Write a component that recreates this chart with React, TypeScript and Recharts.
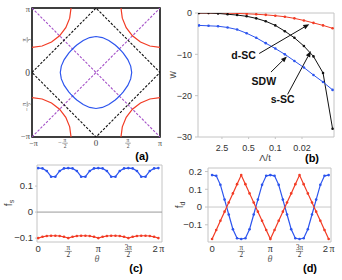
import {
  LineChart,
  Line,
  XAxis,
  YAxis,
  ReferenceArea,
  ReferenceLine,
  ReferenceDot,
} from 'recharts';

const SANS = '"Liberation Sans", Arial, sans-serif';
const SERIF = '"Liberation Serif", "DejaVu Serif", serif';
const BLUE = '#2d55ee';
const RED = '#f23b24';
const PURPLE = '#a552c8';
const DARK = '#111';
const FRAME = '#c4c4c4';
const TXT = '#333';

// ---- (a) Brillouin zone, coordinates in units of pi ----
const piTicks = [-1, -0.5, 0, 0.5, 1];
const magBZ = [
  { x: -1, y: 0 }, { x: 0, y: 1 }, { x: 1, y: 0 }, { x: 0, y: -1 }, { x: -1, y: 0 },
];
const diagUp = [{ x: -1, y: -1 }, { x: 1, y: 1 }];
const diagDown = [{ x: -1, y: 1 }, { x: 1, y: -1 }];
const fermiCenter = [
  { x: 0.558, y: 0 }, { x: 0.542, y: 0.1 }, { x: 0.497, y: 0.2 }, { x: 0.426, y: 0.3 }, { x: 0.395, y: 0.335 },
  { x: 0.365, y: 0.365 }, { x: 0.335, y: 0.395 }, { x: 0.3, y: 0.426 }, { x: 0.2, y: 0.497 }, { x: 0.1, y: 0.542 },
  { x: 0, y: 0.558 }, { x: -0.1, y: 0.542 }, { x: -0.2, y: 0.497 }, { x: -0.3, y: 0.426 }, { x: -0.335, y: 0.395 },
  { x: -0.365, y: 0.365 }, { x: -0.395, y: 0.335 }, { x: -0.426, y: 0.3 }, { x: -0.497, y: 0.2 }, { x: -0.542, y: 0.1 },
  { x: -0.558, y: 0 }, { x: -0.542, y: -0.1 }, { x: -0.497, y: -0.2 }, { x: -0.426, y: -0.3 }, { x: -0.395, y: -0.335 },
  { x: -0.365, y: -0.365 }, { x: -0.335, y: -0.395 }, { x: -0.3, y: -0.426 }, { x: -0.2, y: -0.497 }, { x: -0.1, y: -0.542 },
  { x: 0, y: -0.558 }, { x: 0.1, y: -0.542 }, { x: 0.2, y: -0.497 }, { x: 0.3, y: -0.426 }, { x: 0.335, y: -0.395 },
  { x: 0.365, y: -0.365 }, { x: 0.395, y: -0.335 }, { x: 0.426, y: -0.3 }, { x: 0.497, y: -0.2 }, { x: 0.542, y: -0.1 },
  { x: 0.558, y: 0 },
];
const pocketTL = [
  { x: -0.39, y: 1 }, { x: -0.411, y: 0.842 }, { x: -0.472, y: 0.695 }, { x: -0.569, y: 0.569 },
  { x: -0.695, y: 0.472 }, { x: -0.842, y: 0.411 }, { x: -1, y: 0.39 },
];
const pocketTR = [
  { x: 0.39, y: 1 }, { x: 0.411, y: 0.842 }, { x: 0.472, y: 0.695 }, { x: 0.569, y: 0.569 },
  { x: 0.695, y: 0.472 }, { x: 0.842, y: 0.411 }, { x: 1, y: 0.39 },
];
const pocketBL = [
  { x: -0.39, y: -1 }, { x: -0.411, y: -0.842 }, { x: -0.472, y: -0.695 }, { x: -0.569, y: -0.569 },
  { x: -0.695, y: -0.472 }, { x: -0.842, y: -0.411 }, { x: -1, y: -0.39 },
];
const pocketBR = [
  { x: 0.39, y: -1 }, { x: 0.411, y: -0.842 }, { x: 0.472, y: -0.695 }, { x: 0.569, y: -0.569 },
  { x: 0.695, y: -0.472 }, { x: 0.842, y: -0.411 }, { x: 1, y: -0.39 },
];

// ---- (b) flow of couplings vs Lambda/t ----
const lambda = [10, 5.62, 3.16, 1.78, 1, 0.562, 0.316, 0.178, 0.1, 0.0562, 0.0316, 0.0178, 0.01, 0.00562, 0.00316];
const wSC_s = [0, 0, -0.1, -0.3, -0.5, -0.8, -1.3, -2.0, -3.0, -4.4, -6.0, -8.0, -10.5, -14.5, -28];
const wSDW = [-3.0, -3.1, -3.2, -3.5, -4.0, -4.9, -6.0, -7.3, -8.6, -10.0, -11.6, -13.2, -15.0, -16.7, -18.6];
const wSC_d = [0, 0, 0, -0.05, -0.1, -0.2, -0.3, -0.45, -0.65, -0.9, -1.3, -1.8, -2.4, -3.0, -3.7];
const lambdaTicks = [2.5, 0.5, 0.1, 0.02];
const flowData = lambda.map((lam, i) => ({ lam, s: wSC_s[i], sdw: wSDW[i], d: wSC_d[i] }));

// ---- (c), (d) form factors vs theta (units of pi) ----
const theta = [
  0, 0.0714, 0.1429, 0.2143, 0.2857, 0.3571, 0.4286, 0.5, 0.5714, 0.6429, 0.7143, 0.7857, 0.8571, 0.9286,
  1, 1.0714, 1.1429, 1.2143, 1.2857, 1.3571, 1.4286, 1.5, 1.5714, 1.6429, 1.7143, 1.7857, 1.8571, 1.9286, 2,
];
const thetaTicks = [0, 0.5, 1, 1.5, 2];
const fsBlue = [
  0.169, 0.168, 0.158, 0.136, 0.136, 0.158, 0.168, 0.169, 0.168, 0.158, 0.136, 0.136, 0.158, 0.168,
  0.169, 0.168, 0.158, 0.136, 0.136, 0.158, 0.168, 0.169, 0.168, 0.158, 0.136, 0.136, 0.158, 0.168, 0.169,
];
const fsRed = [
  -0.1, -0.095, -0.092, -0.091, -0.091, -0.092, -0.095, -0.1, -0.095, -0.092, -0.091, -0.091, -0.092, -0.095,
  -0.1, -0.095, -0.092, -0.091, -0.091, -0.092, -0.095, -0.1, -0.095, -0.092, -0.091, -0.091, -0.092, -0.095, -0.1,
];
const fdBlue = [
  0.18, 0.176, 0.125, 0.042, -0.042, -0.125, -0.176, -0.18, -0.176, -0.125, -0.042, 0.042, 0.125, 0.176,
  0.18, 0.176, 0.125, 0.042, -0.042, -0.125, -0.176, -0.18, -0.176, -0.125, -0.042, 0.042, 0.125, 0.176, 0.18,
];
const fdRed = [
  -0.18, -0.129, -0.077, -0.026, 0.026, 0.077, 0.129, 0.18, 0.129, 0.077, 0.026, -0.026, -0.077, -0.129,
  -0.18, -0.129, -0.077, -0.026, 0.026, 0.077, 0.129, 0.18, 0.129, 0.077, 0.026, -0.026, -0.077, -0.129, -0.18,
];
const fsData = theta.map((t, i) => ({ t, a: fsBlue[i], b: fsRed[i] }));
const fdData = theta.map((t, i) => ({ t, a: fdBlue[i], b: fdRed[i] }));

const minus = (v: number) => (v < 0 ? `\u2212${Math.abs(v)}` : `${v}`);

function Frac({ x, y, num, size, color, font }: any) {
  return (
    <g>
      <text x={x} y={y} textAnchor="middle" fontFamily={font} fontSize={size} fill={color}>{num}</text>
      <line x1={x - size * 0.5} x2={x + size * 0.5} y1={y + size * 0.25} y2={y + size * 0.25} stroke={color} strokeWidth={0.5} />
      <text x={x} y={y + size * 1.05} textAnchor="middle" fontFamily={font} fontSize={size} fill={color}>2</text>
    </g>
  );
}

function PiTickX({ x, y, payload }: any) {
  const v = payload.value;
  const c = '#444';
  if (v === 0) return <text x={x} y={y + 8} textAnchor="middle" fontFamily={SERIF} fontSize={9} fill={c}>0</text>;
  if (Math.abs(v) === 1)
    return <text x={x + (v < 0 ? 1.5 : 0)} y={y + 8} textAnchor="middle" fontFamily={SERIF} fontSize={8} fill={c}>{v < 0 ? '\u2212\u03c0' : '\u03c0'}</text>;
  return (
    <g>
      {v < 0 && <text x={x - 4} y={y + 6.5} textAnchor="middle" fontFamily={SERIF} fontSize={6.5} fill={c}>{'\u2212'}</text>}
      <Frac x={x + (v < 0 ? 1 : 0)} y={y + 3.8} num={'\u03c0'} size={5.5} color={c} font={SERIF} />
    </g>
  );
}

function PiTickY({ x, y, payload }: any) {
  const v = payload.value;
  const c = '#444';
  if (v === 0) return <text x={x} y={y + 3} textAnchor="end" fontFamily={SERIF} fontSize={9.5} fill={c}>0</text>;
  if (Math.abs(v) === 1)
    return <text x={x} y={y + (v < 0 ? 1.5 : 2.5)} textAnchor="end" fontFamily={SERIF} fontSize={8.5} fill={c}>{v < 0 ? '\u2212\u03c0' : '\u03c0'}</text>;
  return (
    <g transform={`translate(${x - 3},${y}) rotate(-90)`}>
      {v < 0 && <text x={-4.5} y={1.5} textAnchor="middle" fontFamily={SERIF} fontSize={6.5} fill={c}>{'\u2212'}</text>}
      <Frac x={0.5} y={-1.2} num={'\u03c0'} size={5.5} color={c} font={SERIF} />
    </g>
  );
}

function ThetaTick({ x, y, payload }: any) {
  const v = payload.value;
  if (v === 0) return <text x={x} y={y + 9.5} textAnchor="middle" fontFamily={SANS} fontSize={9.5} fill={TXT}>0</text>;
  if (v === 1) return <text x={x} y={y + 9.5} textAnchor="middle" fontFamily={SERIF} fontSize={10} fill={TXT}>{'\u03c0'}</text>;
  if (v === 2)
    return (
      <text x={x} y={y + 9.5} textAnchor="middle" fill={TXT}>
        <tspan fontFamily={SANS} fontSize={9.5}>2</tspan>
        <tspan fontFamily={SERIF} fontSize={10} dx={1.5}>{'\u03c0'}</tspan>
      </text>
    );
  return <Frac x={x} y={y + 7.6} num={v === 0.5 ? '\u03c0' : '3\u03c0'} size={7.2} color={TXT} font={SERIF} />;
}

function Arrow(props: any) {
  const { x1, y1, x2, y2 } = props;
  if (![x1, y1, x2, y2].every((v) => Number.isFinite(v))) return null;
  const a = Math.atan2(y2 - y1, x2 - x1);
  const len = 6;
  const w = 2.4;
  const bx = x2 - len * Math.cos(a);
  const by = y2 - len * Math.sin(a);
  const pts = `${x2},${y2} ${bx - w * Math.sin(a)},${by + w * Math.cos(a)} ${bx + w * Math.sin(a)},${by - w * Math.cos(a)}`;
  return (
    <g>
      <line x1={x1} y1={y1} x2={bx} y2={by} stroke={DARK} strokeWidth={1} />
      <polygon points={pts} fill={DARK} />
    </g>
  );
}

const noteLabel = (value: string) => ({ value, position: 'center' as const, fill: DARK, fontSize: 10.5, fontWeight: 700, fontFamily: SANS });
const dotStyle = (c: string) => ({ r: 1.3, fill: c, stroke: 'none' });

export default function App() {
  return (
    <div style={{ position: 'fixed', left: 0, top: 0, width: 342, height: 280, background: '#fff', overflow: 'hidden' }}>
      {/* (a) */}
      <div style={{ position: 'absolute', left: 0, top: 0 }}>
        <LineChart width={171} height={160} margin={{ top: 8, right: 11, bottom: 0, left: 0 }}>
          <XAxis type="number" dataKey="x" domain={[-1, 1]} ticks={piTicks} height={23} axisLine={false} tickLine={false}
            tickSize={0} tickMargin={1} tick={<PiTickX />} allowDataOverflow />
          <YAxis type="number" domain={[-1, 1]} ticks={piTicks} width={32} axisLine={false} tickLine={false}
            tickSize={0} tickMargin={2} tick={<PiTickY />} allowDataOverflow />
          <Line data={diagUp} dataKey="y" stroke={PURPLE} strokeWidth={1.1} strokeDasharray="2.5 1.5" dot={false} isAnimationActive={false} />
          <Line data={diagDown} dataKey="y" stroke={PURPLE} strokeWidth={1.1} strokeDasharray="2.5 1.5" dot={false} isAnimationActive={false} />
          <Line data={magBZ} dataKey="y" stroke={DARK} strokeWidth={1.1} strokeDasharray="2.5 1.5" dot={false} isAnimationActive={false} />
          <Line data={fermiCenter} dataKey="y" stroke={BLUE} strokeWidth={1.2} dot={false} isAnimationActive={false} />
          <Line data={pocketTL} dataKey="y" stroke={RED} strokeWidth={1.2} dot={false} isAnimationActive={false} />
          <Line data={pocketTR} dataKey="y" stroke={RED} strokeWidth={1.2} dot={false} isAnimationActive={false} />
          <Line data={pocketBL} dataKey="y" stroke={RED} strokeWidth={1.2} dot={false} isAnimationActive={false} />
          <Line data={pocketBR} dataKey="y" stroke={RED} strokeWidth={1.2} dot={false} isAnimationActive={false} />
          <ReferenceArea x1={-1} x2={1} y1={-1} y2={1} fill="none" fillOpacity={0} stroke="#000" strokeWidth={1.5} />
        </LineChart>
      </div>

      {/* (b) */}
      <div style={{ position: 'absolute', left: 171, top: 0 }}>
        <LineChart width={171} height={160} data={flowData} margin={{ top: 13, right: 8, bottom: 0, left: 0 }}>
          <ReferenceArea x1={0.0029} x2={10.6} y1={-30} y2={0} fill="none" fillOpacity={0} stroke={FRAME} strokeWidth={1} />
          <XAxis type="number" dataKey="lam" scale="log" domain={[0.0029, 10.6]} reversed ticks={lambdaTicks} height={23}
            axisLine={false} tickLine={{ stroke: FRAME }} tickSize={2} tickMargin={6} allowDataOverflow
            tick={{ fontSize: 9, fill: TXT, fontFamily: SANS }} tickFormatter={(v) => String(v)} />
          <YAxis type="number" domain={[-30, 0]} ticks={[-30, -20, -10, 0]} width={27} axisLine={false}
            tickLine={{ stroke: FRAME }} tickSize={3} tickMargin={3} allowDataOverflow
            tick={{ fontSize: 9, fill: TXT, fontFamily: SANS }} tickFormatter={minus} />
          <Line dataKey="d" stroke={RED} strokeWidth={1} dot={dotStyle(RED)} isAnimationActive={false} />
          <Line dataKey="s" stroke={DARK} strokeWidth={1} dot={dotStyle(DARK)} isAnimationActive={false} />
          <Line dataKey="sdw" stroke={BLUE} strokeWidth={1} dot={dotStyle(BLUE)} isAnimationActive={false} />
          <ReferenceLine segment={[{ x: 0.264, y: -9.8 }, { x: 0.0129, y: -2.7 }]} shape={<Arrow />} />
          <ReferenceLine segment={[{ x: 0.13, y: -14.3 }, { x: 0.0497, y: -10.5 }]} shape={<Arrow />} />
          <ReferenceLine segment={[{ x: 0.0477, y: -19.7 }, { x: 0.0117, y: -9.2 }]} shape={<Arrow />} />
          <ReferenceDot x={0.68} y={-10.2} r={0} fill="none" stroke="none" label={noteLabel('d-SC')} />
          <ReferenceDot x={0.2} y={-16.4} r={0} fill="none" stroke="none" label={noteLabel('SDW')} />
          <ReferenceDot x={0.064} y={-20.9} r={0} fill="none" stroke="none" label={noteLabel('s-SC')} />
        </LineChart>
      </div>

      {/* (c) */}
      <div style={{ position: 'absolute', left: 0, top: 160 }}>
        <LineChart width={171} height={120} data={fsData} margin={{ top: 5, right: 9, bottom: 0, left: 0 }}>
          <ReferenceArea x1={-0.02} x2={2.06} y1={-0.115} y2={0.181} fill="none" fillOpacity={0} stroke={FRAME} strokeWidth={1} />
          <XAxis type="number" dataKey="t" domain={[-0.02, 2.06]} ticks={thetaTicks} height={38} axisLine={false}
            tickLine={false} tickSize={0} tickMargin={0} tick={<ThetaTick />} allowDataOverflow />
          <YAxis type="number" domain={[-0.115, 0.181]} ticks={[-0.1, 0, 0.1]} width={37} axisLine={false}
            tickLine={{ stroke: FRAME }} tickSize={2} tickMargin={2} allowDataOverflow
            tick={{ fontSize: 9.5, fill: TXT, fontFamily: SANS }} tickFormatter={minus} />
          <ReferenceLine y={0} stroke="#9a9a9a" strokeWidth={1} />
          <Line dataKey="a" stroke={BLUE} strokeWidth={1.2} dot={dotStyle(BLUE)} isAnimationActive={false} />
          <Line dataKey="b" stroke={RED} strokeWidth={1.2} dot={dotStyle(RED)} isAnimationActive={false} />
        </LineChart>
      </div>

      {/* (d) */}
      <div style={{ position: 'absolute', left: 171, top: 160 }}>
        <LineChart width={171} height={120} data={fdData} margin={{ top: 8, right: 11, bottom: 0, left: 0 }}>
          <ReferenceArea x1={-0.07} x2={2.04} y1={-0.197} y2={0.22} fill="none" fillOpacity={0} stroke={FRAME} strokeWidth={1} />
          <XAxis type="number" dataKey="t" domain={[-0.07, 2.04]} ticks={thetaTicks} height={38} axisLine={false}
            tickLine={false} tickSize={0} tickMargin={0} tick={<ThetaTick />} allowDataOverflow />
          <YAxis type="number" domain={[-0.197, 0.22]} ticks={[-0.1, 0, 0.1, 0.2]} width={37} axisLine={false}
            tickLine={{ stroke: FRAME }} tickSize={3} tickMargin={3} allowDataOverflow
            tick={{ fontSize: 9.5, fill: TXT, fontFamily: SANS }} tickFormatter={minus} />
          <ReferenceLine y={0} stroke="#c8c8c8" strokeWidth={1} />
          <Line dataKey="a" stroke={BLUE} strokeWidth={1.2} dot={dotStyle(BLUE)} isAnimationActive={false} />
          <Line dataKey="b" stroke={RED} strokeWidth={1.2} dot={dotStyle(RED)} isAnimationActive={false} />
        </LineChart>
      </div>

      {/* titles and panel labels */}
      <svg width={342} height={280} style={{ position: 'absolute', left: 0, top: 0, pointerEvents: 'none' }}>
        <g fontFamily={SANS} fontWeight={700} fontSize={11} fill="#000" textAnchor="middle">
          <text x={142} y={159.5}>(a)</text>
          <text x={312} y={161.5}>(b)</text>
          <text x={136} y={271.5}>(c)</text>
          <text x={310} y={271.5}>(d)</text>
        </g>
        <text x={265} y={161} textAnchor="middle" fontFamily={SANS} fontSize={9.5} fill="#444">{'\u039b/t'}</text>
        <text transform="translate(176,75) rotate(-90)" textAnchor="middle" fontFamily={SANS} fontSize={10} fill="#444">w</text>
        <text x={97} y={262} textAnchor="middle" fontFamily={SERIF} fontStyle="italic" fontSize={10} fill="#666">{'\u03b8'}</text>
        <text x={270} y={262} textAnchor="middle" fontFamily={SERIF} fontStyle="italic" fontSize={10} fill="#666">{'\u03b8'}</text>
        <text transform="translate(12,203) rotate(-90)" textAnchor="middle" fontFamily={SANS} fontSize={10} fill="#444">
          f<tspan fontSize={7} dy={2}>s</tspan>
        </text>
        <text transform="translate(183,205) rotate(-90)" textAnchor="middle" fontFamily={SANS} fontSize={10} fill="#444">
          f<tspan fontSize={7} dy={2}>d</tspan>
        </text>
      </svg>
    </div>
  );
}
